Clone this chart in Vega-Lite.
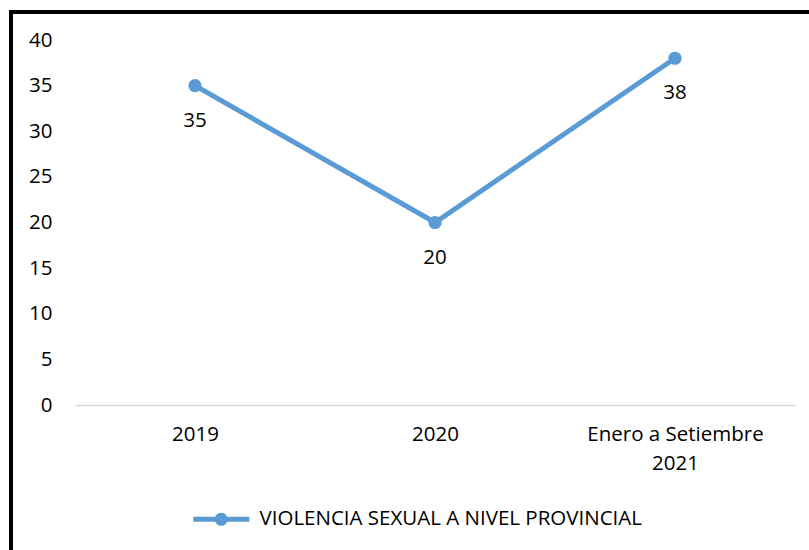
{
  "$schema": "https://vega.github.io/schema/vega-lite/v6.json",
  "autosize": {"type": "none"},
  "padding": {"left": 11, "top": 12, "right": 0, "bottom": 0},
  "width": 820,
  "height": 560,
  "background": "white",
  "config": {
    "view": {"stroke": "#000000", "strokeWidth": 4},
    "font": "Open Sans"
  },
  "data": {
    "values": [
      {"periodo": "2019", "casos": 35, "serie": "VIOLENCIA SEXUAL A NIVEL PROVINCIAL"},
      {"periodo": "2020", "casos": 20, "serie": "VIOLENCIA SEXUAL A NIVEL PROVINCIAL"},
      {"periodo": "Enero a Setiembre 2021", "casos": 38, "serie": "VIOLENCIA SEXUAL A NIVEL PROVINCIAL"}
    ]
  },
  "encoding": {
    "x": {
      "field": "periodo",
      "type": "nominal",
      "sort": null,
      "scale": {"type": "point", "range": [64, 784], "padding": 0.5},
      "axis": {
        "title": null,
        "orient": "bottom",
        "offset": -167,
        "labelAngle": 0,
        "ticks": false,
        "tickSize": 0,
        "domainColor": "#D9D9D9",
        "domainWidth": 1.5,
        "labelFont": "Open Sans",
        "labelFontSize": 20.5,
        "labelColor": "#000000",
        "labelPadding": 19,
        "labelLineHeight": 29,
        "labelExpr": "datum.value == 'Enero a Setiembre 2021' ? ['Enero a Setiembre', '2021'] : datum.label"
      }
    },
    "y": {
      "field": "casos",
      "type": "quantitative",
      "scale": {"domain": [0, 40], "range": [393, 28], "nice": false, "zero": true},
      "axis": {
        "title": null,
        "orient": "left",
        "offset": -41,
        "values": [0, 5, 10, 15, 20, 25, 30, 35, 40],
        "grid": false,
        "domain": false,
        "ticks": false,
        "tickSize": 0,
        "labelPadding": 0,
        "labelFont": "Open Sans",
        "labelFontSize": 20.5,
        "labelColor": "#000000",
        "labelBaseline": "middle"
      }
    }
  },
  "layer": [
    {
      "mark": {"type": "line", "strokeWidth": 5, "point": {"filled": true, "size": 175}},
      "encoding": {
        "color": {
          "field": "serie",
          "type": "nominal",
          "scale": {"range": ["#5B9BD5"]},
          "legend": {
            "title": null,
            "orient": "none",
            "legendX": 200,
            "legendY": 497,
            "padding": 0,
            "symbolType": "M-4,-0.36H-0.86V0.36H-4Z M0.86,-0.36H4V0.36H0.86Z M0.93,0A0.93,0.93,0,1,1,-0.93,0A0.93,0.93,0,1,1,0.93,0Z",
            "symbolSize": 196,
            "symbolFillColor": "#5B9BD5",
            "symbolStrokeWidth": 0,
            "symbolOpacity": 1,
            "labelOffset": 28,
            "labelFont": "Open Sans",
            "labelFontSize": 20.5,
            "labelColor": "#000000",
            "labelLimit": 0
          }
        }
      }
    },
    {
      "mark": {"type": "text", "dy": 35, "fontSize": 20.5, "font": "Open Sans", "color": "#000000", "baseline": "middle"},
      "encoding": {"text": {"field": "casos", "type": "quantitative"}}
    }
  ]
}
